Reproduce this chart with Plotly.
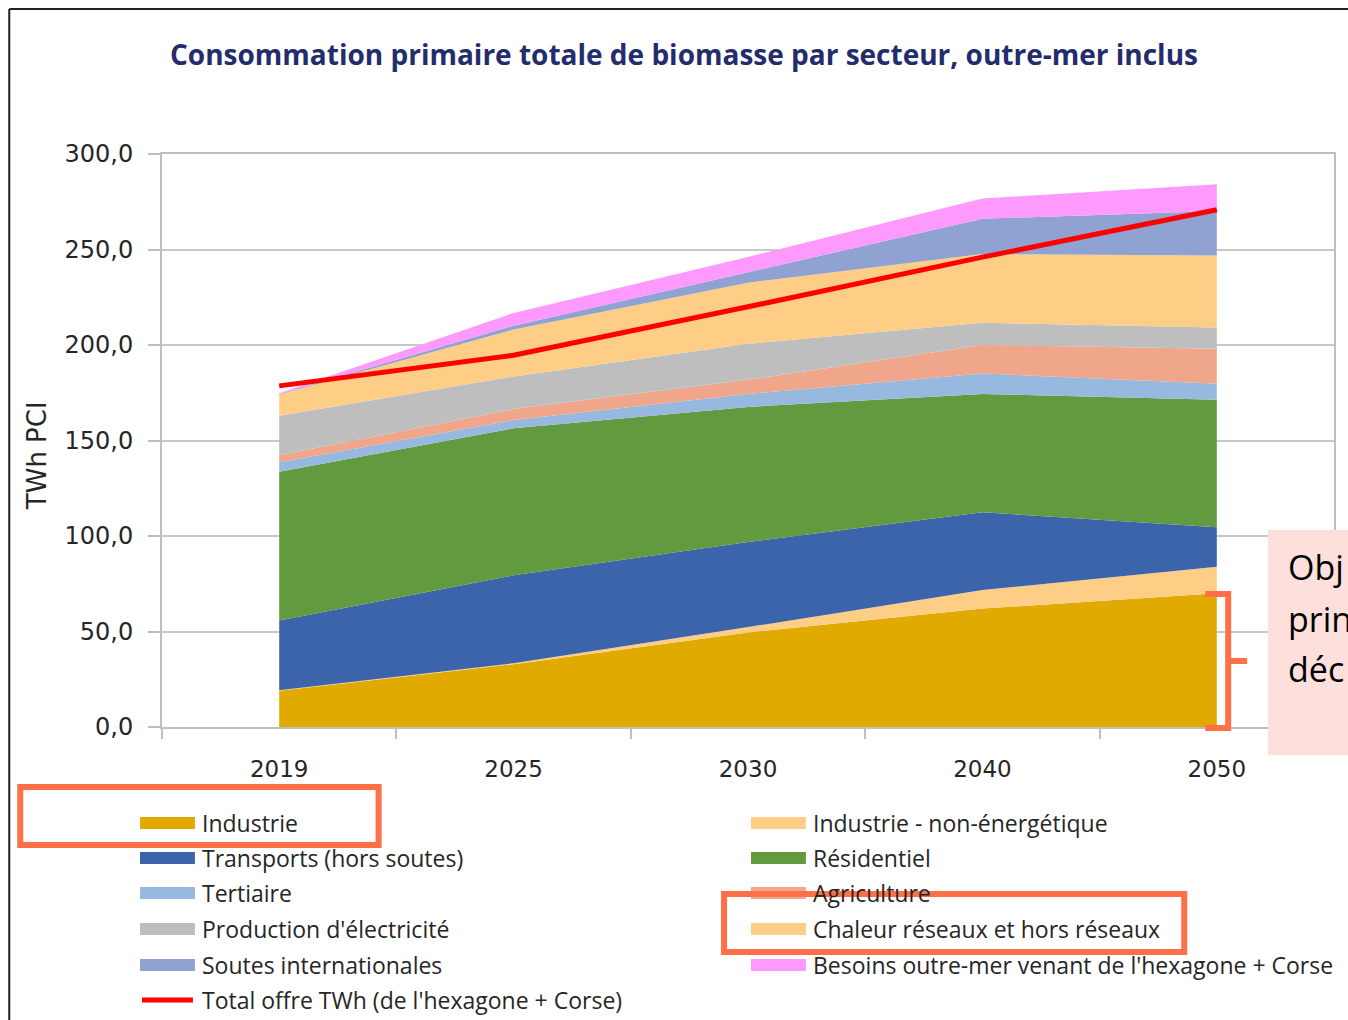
import plotly.graph_objs as go

# Data (TWh PCI)
years = ['2019', '2025', '2030', '2040', '2050']

industrie = [19.0, 32.9, 49.5, 62.0, 70.0]
industrie_non_energetique = [0.2, 0.5, 2.8, 9.7, 13.9]
transports = [36.6, 46.0, 44.6, 40.7, 20.7]
residentiel = [77.9, 77.0, 70.7, 62.0, 66.8]
tertiaire = [4.9, 4.3, 6.8, 10.7, 8.3]
agriculture = [3.7, 5.8, 7.4, 14.9, 18.4]
production_electricite = [20.6, 17.0, 18.8, 11.6, 11.0]
chaleur = [11.2, 24.6, 32.0, 36.0, 37.7]
soutes = [0.2, 2.0, 5.5, 18.5, 23.4]
outre_mer = [0.5, 6.7, 8.0, 10.6, 13.9]
total_offre = [178.6, 194.6, 220.0, 246.0, 270.8]

series_names = ['Industrie', 'Industrie - non-énergétique', 'Transports (hors soutes)',
                'Résidentiel', 'Tertiaire', 'Agriculture', "Production d'électricité",
                'Chaleur réseaux et hors réseaux', 'Soutes internationales',
                "Besoins outre-mer venant de l'hexagone + Corse"]
series_values = [industrie, industrie_non_energetique, transports, residentiel, tertiaire,
                 agriculture, production_electricite, chaleur, soutes, outre_mer]
series_colors = ['#E1AA00', '#FECE87', '#3C64AA', '#629A3F', '#97B8DF',
                 '#EFA68A', '#BEBEBE', '#FECE87', '#8FA2D2', '#FE9AFE']
total_name = "Total offre TWh (de l'hexagone + Corse)"

W, H = 1348, 1020
L, R, T, B = 162, 12, 154, 293
PW, PH = W - L - R, H - T - B


def px(x):
    return (x - L) / PW


def py(y):
    return (H - B - y) / PH


data = [go.Scatter(
    x=years, y=vals, name=name, mode='lines', stackgroup='one',
    line=dict(width=0, color=col), fillcolor=col, showlegend=False
) for name, vals, col in zip(series_names, series_values, series_colors)]

data.append(go.Scatter(
    x=years, y=total_offre, name=total_name, mode='lines',
    line=dict(color='#FF0000', width=5), showlegend=False
))

shapes = []
annotations = []

# custom legend: two columns, row-major like the original
legend_items = [(n, c, 'rect') for n, c in zip(series_names, series_colors)] + [(total_name, '#FF0000', 'line')]
row_y = [823, 858, 893, 929, 965, 1000]
for i, (name, col, kind) in enumerate(legend_items):
    colx = [140, 752][i % 2]
    yy = row_y[i // 2]
    if kind == 'rect':
        shapes.append(dict(type='rect', xref='paper', yref='paper',
                           x0=px(colx), x1=px(colx + 55), y0=py(yy - 6), y1=py(yy + 6),
                           fillcolor=col, line=dict(width=0)))
    else:
        shapes.append(dict(type='line', xref='paper', yref='paper',
                           x0=px(colx + 2), x1=px(colx + 53), y0=py(yy), y1=py(yy),
                           line=dict(color=col, width=5)))
    annotations.append(dict(xref='paper', yref='paper', x=px(colx + 60), y=py(yy),
                            text=name, showarrow=False, xanchor='left', yanchor='middle',
                            font=dict(family='Open Sans', size=23, color='#262626')))

# highlight boxes (orange)
orange = '#FF7048'
shapes.append(dict(type='rect', xref='paper', yref='paper', layer='below',
                   x0=px(20), x1=px(379), y0=py(787), y1=py(845),
                   line=dict(color=orange, width=6)))
shapes.append(dict(type='rect', xref='paper', yref='paper',
                   x0=px(725), x1=px(1186), y0=py(894), y1=py(952),
                   line=dict(color=orange, width=6)))
# bracket next to 2050 industry
shapes.append(dict(type='path', xref='paper', yref='paper',
                   path='M %f,%f L %f,%f L %f,%f L %f,%f' % (px(1207), py(594), px(1230), py(594),
                                                             px(1230), py(728), px(1207), py(728)),
                   line=dict(color=orange, width=6)))
shapes.append(dict(type='line', xref='paper', yref='paper',
                   x0=px(1230), x1=px(1249), y0=py(661), y1=py(661),
                   line=dict(color=orange, width=6)))
# pink comment box on the right (cut by the frame)
shapes.append(dict(type='rect', xref='paper', yref='paper',
                   x0=px(1270), x1=px(1360), y0=py(530), y1=py(755),
                   fillcolor='#FDE0DC', line=dict(width=0)))
for txt, yy in zip(['Obj', 'prin', 'déc'], [567, 619, 669]):
    annotations.append(dict(xref='paper', yref='paper', x=px(1288), y=py(yy), text=txt,
                            showarrow=False, xanchor='left', yanchor='middle',
                            font=dict(family='Open Sans', size=34, color='#000000')))

# outer frame of the slide
shapes.append(dict(type='line', xref='paper', yref='paper',
                   x0=px(9), x1=px(9), y0=py(9), y1=py(1025), line=dict(color='#202020', width=2)))
shapes.append(dict(type='line', xref='paper', yref='paper',
                   x0=px(9), x1=px(1360), y0=py(9), y1=py(9), line=dict(color='#202020', width=2)))

# y axis title
annotations.append(dict(xref='paper', yref='paper', x=px(37), y=py(456), text='TWh PCI',
                        textangle=-90, showarrow=False, xanchor='center', yanchor='middle',
                        font=dict(family='DejaVu Sans', size=26, color='#262626')))

layout = go.Layout(
    width=W, height=H,
    margin=dict(l=L, r=R, t=T, b=B),
    paper_bgcolor='white', plot_bgcolor='white',
    separators=', ',
    title=dict(text='<b>Consommation primaire totale de biomasse par secteur, outre-mer inclus</b>',
               x=684 / W, xref='container', xanchor='center',
               y=1 - 55 / H, yref='container', yanchor='middle',
               font=dict(family='Open Sans', size=28, color='#232C6C')),
    xaxis=dict(type='category', range=[-0.5, 4.5], showgrid=False,
               showline=True, linecolor='#BFBFBF', linewidth=2, mirror=True,
               ticks='outside', tickson='boundaries', ticklen=10, tickcolor='#BFBFBF', tickwidth=2,
               ticklabelstandoff=20,
               tickfont=dict(family='DejaVu Sans', size=23, color='#262626')),
    yaxis=dict(range=[0, 300], dtick=50, tickformat='.1f',
               showgrid=True, gridcolor='#C8C8C8', gridwidth=1.5, zeroline=False,
               showline=True, linecolor='#BFBFBF', linewidth=2, mirror=True,
               ticks='outside', ticklen=12, tickcolor='#BFBFBF', tickwidth=2,
               ticklabelstandoff=10,
               tickfont=dict(family='DejaVu Sans', size=24, color='#262626')),
    shapes=shapes,
    annotations=annotations,
    showlegend=False
)

fig = go.Figure(data=data, layout=layout)
# drop the default page margin so the figure fills the window exactly
fig.write_html('out.html', config={'displayModeBar': False},
               post_script="document.body.style.margin='0';document.body.style.overflow='hidden';")
